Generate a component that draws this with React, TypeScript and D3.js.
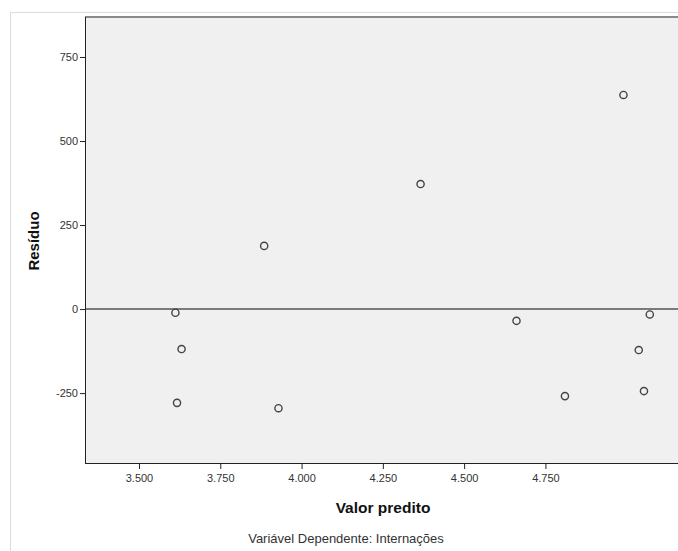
import React, { useRef, useEffect } from "react";
import * as d3 from "d3";

// predicted value (x) and residual (y) for each case
const predicted = [3612, 3631, 3617, 3885, 3929, 4366, 4661, 4810, 4990, 5037, 5071, 5053];
const residuals = [-11, -119, -279, 188, -295, 372, -35, -259, 637, -122, -16, -244];
const xTicks = [3500, 3750, 4000, 4250, 4500, 4750];
const yTicks = [-250, 0, 250, 500, 750];

const App: React.FC = () => {
  const ref = useRef<SVGSVGElement>(null);

  useEffect(() => {
    const svg = d3.select(ref.current);
    svg.selectAll("*").remove();

    const width = 678,
      height = 551;
    const plot = { left: 85, top: 17, bottom: 463, right: 682 };

    const locale = d3.formatLocale({
      decimal: ",",
      thousands: ".",
      grouping: [3],
      currency: ["", ""],
      minus: "-",
    });
    const fmt = locale.format(",");

    const x = d3.scaleLinear().domain([3334, 5170]).range([plot.left, plot.right]);
    const y = d3.scaleLinear().domain([-458, 869]).range([plot.bottom, plot.top]);

    // outer frame
    svg
      .append("path")
      .attr("d", `M10.5,${height} V12.5 H${width}`)
      .attr("fill", "none")
      .attr("stroke", "#dcdcdc")
      .attr("stroke-width", 1);

    // plot background
    svg
      .append("rect")
      .attr("x", plot.left)
      .attr("y", plot.top)
      .attr("width", plot.right - plot.left)
      .attr("height", plot.bottom - plot.top)
      .attr("fill", "#f0f0f0");

    // top border
    svg
      .append("line")
      .attr("x1", plot.left)
      .attr("x2", plot.right)
      .attr("y1", plot.top)
      .attr("y2", plot.top)
      .attr("stroke", "#8a8a8a")
      .attr("stroke-width", 2);

    // zero reference line
    svg
      .append("line")
      .attr("x1", plot.left)
      .attr("x2", plot.right)
      .attr("y1", y(0))
      .attr("y2", y(0))
      .attr("stroke", "#555")
      .attr("stroke-width", 1.6);

    // Y axis
    const yAxis = svg
      .append("g")
      .attr("transform", `translate(${plot.left},0)`)
      .call(d3.axisLeft(y).tickValues(yTicks).tickSize(5).tickPadding(2).tickFormat((d) => fmt(d as number)));
    yAxis.select(".domain").attr("d", `M0.5,${plot.top} V${plot.bottom}`).attr("stroke", "#222");
    yAxis.selectAll(".tick line").attr("stroke", "#222");
    yAxis
      .selectAll("text")
      .attr("fill", "#333")
      .style("font-family", "'Liberation Sans', Arial, sans-serif")
      .style("font-size", "11px");

    // X axis
    const xAxis = svg
      .append("g")
      .attr("transform", `translate(0,${plot.bottom})`)
      .call(d3.axisBottom(x).tickValues(xTicks).tickSize(6).tickPadding(5).tickFormat((d) => fmt(d as number)));
    xAxis.select(".domain").attr("d", `M${plot.left},0.5 H${plot.right}`).attr("stroke", "#222");
    xAxis.selectAll(".tick line").attr("stroke", "#222");
    xAxis
      .selectAll("text")
      .attr("fill", "#333")
      .style("font-family", "'Liberation Sans', Arial, sans-serif")
      .style("font-size", "11px");

    // points
    svg
      .append("g")
      .selectAll("circle")
      .data(predicted.map((p, i) => ({ p, r: residuals[i] })))
      .enter()
      .append("circle")
      .attr("cx", (d) => x(d.p))
      .attr("cy", (d) => y(d.r))
      .attr("r", 3.6)
      .attr("fill", "none")
      .attr("stroke", "#444")
      .attr("stroke-width", 1.4);

    // X axis label
    svg
      .append("text")
      .attr("x", 383)
      .attr("y", 513)
      .attr("text-anchor", "middle")
      .style("font-family", "'Liberation Sans', Arial, sans-serif")
      .style("font-size", "15.5px")
      .style("font-weight", "bold")
      .attr("fill", "#111")
      .text("Valor predito");

    // Y axis label
    svg
      .append("text")
      .attr("transform", "translate(39,241) rotate(-90)")
      .attr("text-anchor", "middle")
      .style("font-family", "'Liberation Sans', Arial, sans-serif")
      .style("font-size", "15px")
      .style("font-weight", "bold")
      .attr("fill", "#111")
      .text("Resíduo");

    // footnote
    svg
      .append("text")
      .attr("x", 346)
      .attr("y", 543)
      .attr("text-anchor", "middle")
      .style("font-family", "'Liberation Sans', Arial, sans-serif")
      .style("font-size", "13px")
      .attr("fill", "#333")
      .text("Variável Dependente: Internações");
  }, []);

  return (
    <svg
      ref={ref}
      width={678}
      height={551}
      style={{ position: "absolute", left: 0, top: 0, background: "#fff" }}
    />
  );
};

export default App;
